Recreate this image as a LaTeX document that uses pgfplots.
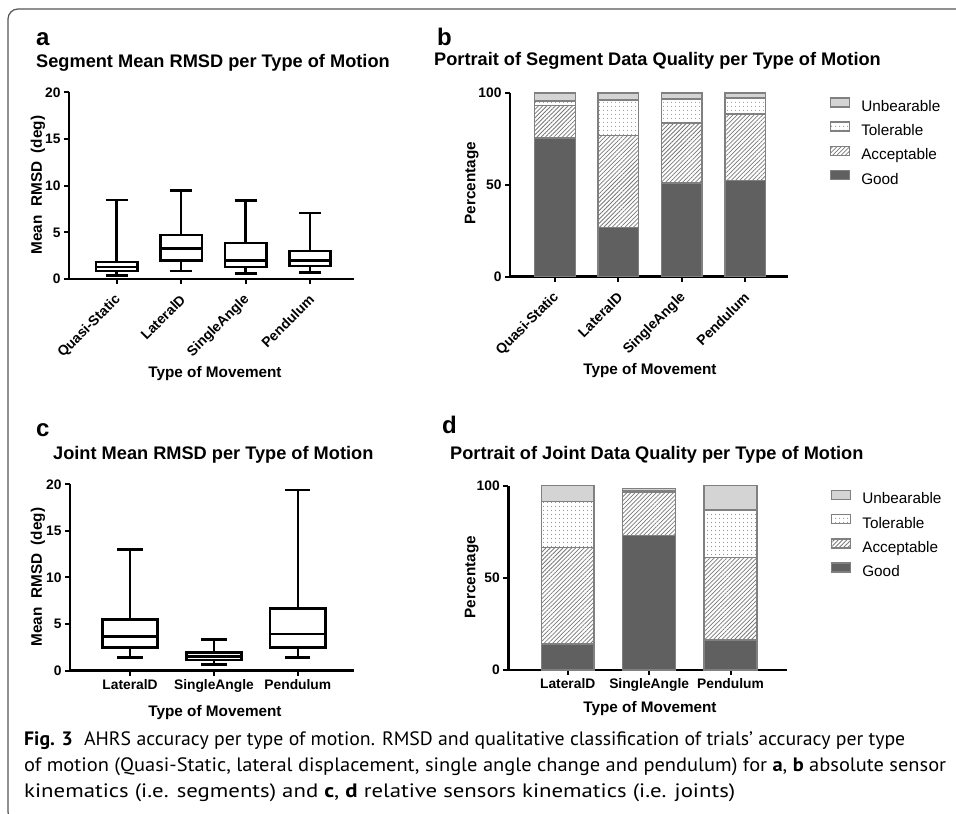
\documentclass[border=0pt]{standalone}
\usepackage{fontspec}
\setmainfont{Liberation Sans}
\newfontfamily\capfont{PT Sans}
\usepackage{graphicx}
\usepackage{pgfplots}
\pgfplotsset{compat=1.18}
\usepgfplotslibrary{statistics}
\usetikzlibrary{patterns.meta}

\definecolor{good}{RGB}{96,96,96}
\definecolor{unb}{RGB}{212,212,212}
\definecolor{bord}{RGB}{128,128,128}
\definecolor{patc}{RGB}{120,120,120}
\definecolor{dotc}{RGB}{110,110,110}
\definecolor{frame}{RGB}{85,85,85}

\newcommand{\fs}[1]{\fontsize{#1}{#1}\selectfont}

\pgfplotsset{
  panel/.style={
    scale only axis,
    axis x line=bottom, axis y line=left,
    axis line style={-, line width=2.4pt},
    tick align=outside,
    tick style={black, line width=2pt},
    major tick length=5pt,
    ticklabel style={font=\bfseries\fs{13.8}},
    /pgf/number format/assume math mode=true,
    clip=false,
    ymin=0,
  },
  rotlab/.style={xticklabel style={anchor=east, xshift=4pt, yshift=-11pt, rotate=45, font=\bfseries\fs{14}}},
  boxp/.style={black, solid, line width=2.6pt},
  stk/.style={
    ybar stacked,
    legend image code/.code={\draw[##1, line width=1.5pt] (0pt,0.5pt) rectangle (19pt,9.5pt);},
    reverse legend,
    legend cell align=left,
    legend style={draw=none, fill=none, font=\fs{15.3}, row sep=7pt, column sep=11pt,
      nodes={inner sep=0pt, text height=11pt, text depth=3pt}},
  },
  gd/.style={fill=good, draw=bord, line width=1.5pt},
  ac/.style={draw=bord, line width=1.5pt, pattern={Lines[angle=45, distance=3pt, line width=0.75pt]}, pattern color=patc},
  tl/.style={draw=bord, line width=1.5pt, pattern={Dots[distance=4pt, radius=0.6pt]}, pattern color=dotc},
  ub/.style={fill=unb, draw=bord, line width=1.5pt},
}

\begin{document}
\begin{tikzpicture}
\path[use as bounding box] (0pt,0pt) rectangle (956pt,814pt);
\draw[line width=1.2pt, frame, rounded corners=10pt] (1000pt,805pt) -- (8pt,805pt) -- (8pt,-8pt) -- (1000pt,-8pt);

% ---------------- panel a
\node[anchor=base west, font=\bfseries\fs{24}, inner sep=0pt] at (36pt,768pt) {a};
\node[anchor=base west, font=\bfseries\fs{18.2}, inner sep=0pt] at (36pt,746pt) {Segment Mean RMSD per Type of Motion};
\begin{axis}[panel, rotlab, at={(69pt,535pt)}, anchor=south west, width=285pt, height=186.7pt,
  xmin=-0.74, xmax=3.68, ymax=20, ytick={0,5,10,15,20},
  xtick={0,1,2,3}, xticklabels={Quasi-Static,LateralD,SingleAngle,Pendulum},
  boxplot/draw direction=y]
\addplot[boxp, boxplot prepared={draw position=0, lower whisker=0.35, lower quartile=0.85, median=1.3, upper quartile=1.8, upper whisker=8.45, box extend=0.64, whisker extend=0.34}] coordinates {};
\addplot[boxp, boxplot prepared={draw position=1, lower whisker=0.85, lower quartile=2.0, median=3.25, upper quartile=4.7, upper whisker=9.45, box extend=0.64, whisker extend=0.34}] coordinates {};
\addplot[boxp, boxplot prepared={draw position=2, lower whisker=0.6, lower quartile=1.3, median=1.95, upper quartile=3.85, upper whisker=8.4, box extend=0.64, whisker extend=0.34}] coordinates {};
\addplot[boxp, boxplot prepared={draw position=3, lower whisker=0.7, lower quartile=1.4, median=2.0, upper quartile=3.0, upper whisker=7.05, box extend=0.64, whisker extend=0.34}] coordinates {};
\end{axis}
\node[rotate=90, font=\bfseries\fs{15.3}] at (38pt,629pt) {Mean\ \ RMSD\ \ (deg)};
\node[font=\bfseries\fs{15.3}] at (215pt,440pt) {Type of Movement};

% ---------------- panel b
\node[anchor=base west, font=\bfseries\fs{24}, inner sep=0pt] at (437pt,768pt) {b};
\node[anchor=base west, font=\bfseries\fs{18.2}, inner sep=0pt] at (434pt,748pt) {Portrait of Segment Data Quality per Type of Motion};
\begin{axis}[panel, stk, rotlab, at={(510pt,537.3pt)}, anchor=south west, width=277.7pt, height=183.7pt,
  xmin=-0.71, xmax=3.67, ymax=100, ytick={0,50,100},
  bar width=0.64,
  xtick={0,1,2,3}, xticklabels={Quasi-Static,LateralD,SingleAngle,Pendulum},
  legend style={at={(1.14,0.99)}, anchor=north west}]
\addplot[gd] coordinates {(0,75.5) (1,26.7) (2,51.0) (3,52.5)};
\addplot[ac] coordinates {(0,17.8) (1,50.1) (2,32.7) (3,36.2)};
\addplot[tl] coordinates {(0,2.3) (1,19.4) (2,13.0) (3,8.7)};
\addplot[ub] coordinates {(0,4.4) (1,3.8) (2,3.3) (3,2.6)};
\legend{Good,Acceptable,Tolerable,Unbearable}
\end{axis}
\node[rotate=90, font=\bfseries\fs{15.3}] at (471.7pt,631pt) {Percentage};
\node[font=\bfseries\fs{15.3}] at (650pt,443pt) {Type of Movement};

% ---------------- panel c
\node[anchor=base west, font=\bfseries\fs{24}, inner sep=0pt] at (36pt,377pt) {c};
\node[anchor=base west, font=\bfseries\fs{18.2}, inner sep=0pt] at (53pt,354pt) {Joint Mean RMSD per Type of Motion};
\begin{axis}[panel, at={(70pt,143.3pt)}, anchor=south west, width=284pt, height=186.4pt,
  xmin=-0.716, xmax=2.67, ymax=20, ytick={0,5,10,15,20},
  xtick={0,1,2}, xticklabels={LateralD,SingleAngle,Pendulum},
  boxplot/draw direction=y]
\addplot[boxp, boxplot prepared={draw position=0, lower whisker=1.4, lower quartile=2.5, median=3.65, upper quartile=5.5, upper whisker=13.0, box extend=0.66, whisker extend=0.3}] coordinates {};
\addplot[boxp, boxplot prepared={draw position=1, lower whisker=0.68, lower quartile=1.15, median=1.5, upper quartile=1.93, upper whisker=3.37, box extend=0.66, whisker extend=0.3}] coordinates {};
\addplot[boxp, boxplot prepared={draw position=2, lower whisker=1.4, lower quartile=2.5, median=3.94, upper quartile=6.7, upper whisker=19.4, box extend=0.66, whisker extend=0.3}] coordinates {};
\end{axis}
\node[rotate=90, font=\bfseries\fs{15.3}] at (38pt,237pt) {Mean\ \ RMSD\ \ (deg)};
\node[font=\bfseries\fs{15.3}] at (215pt,101pt) {Type of Movement};

% ---------------- panel d
\node[anchor=base west, font=\bfseries\fs{24}, inner sep=0pt] at (442pt,380pt) {d};
\node[anchor=base west, font=\bfseries\fs{18.2}, inner sep=0pt] at (450pt,354pt) {Portrait of Joint Data Quality per Type of Motion};
\begin{axis}[panel, stk, at={(508.3pt,144pt)}, anchor=south west, width=278.4pt, height=184.3pt,
  xmin=-0.73, xmax=2.69, ymax=100, ytick={0,50,100},
  bar width=0.65,
  xtick={0,1,2}, xticklabels={LateralD,SingleAngle,Pendulum},
  legend style={at={(1.147,0.99)}, anchor=north west}]
\addplot[gd] coordinates {(0,14.0) (1,72.9) (2,16.4)};
\addplot[ac] coordinates {(0,52.4) (1,23.8) (2,44.7)};
\addplot[tl] coordinates {(0,24.9) (1,0.5) (2,25.6)};
\addplot[ub] coordinates {(0,8.7) (1,1.4) (2,13.3)};
\legend{Good,Acceptable,Tolerable,Unbearable}
\end{axis}
\node[rotate=90, font=\bfseries\fs{15.3}] at (471.7pt,237pt) {Percentage};
\node[font=\bfseries\fs{15.3}] at (650pt,105pt) {Type of Movement};

% ---------------- caption
\node[anchor=base west, inner sep=0pt, font=\capfont\fs{19.4}] at (24pt,68.5pt) {\resizebox{881pt}{\height}{\textbf{Fig. 3}\hspace{11pt}AHRS accuracy per type of motion. RMSD and qualitative classification of trials’ accuracy per type}};
\node[anchor=base west, inner sep=0pt, font=\capfont\fs{19.4}] at (24pt,42.3pt) {\resizebox{922pt}{\height}{of motion (Quasi-Static, lateral displacement, single angle change and pendulum) for \textbf{a}, \textbf{b} absolute sensor}};
\node[anchor=base west, inner sep=0pt, font=\capfont\fs{19.4}] at (24pt,16.2pt) {\resizebox{711pt}{\height}{kinematics (i.e. segments) and \textbf{c}, \textbf{d} relative sensors kinematics (i.e. joints)}};
\end{tikzpicture}
\end{document}
